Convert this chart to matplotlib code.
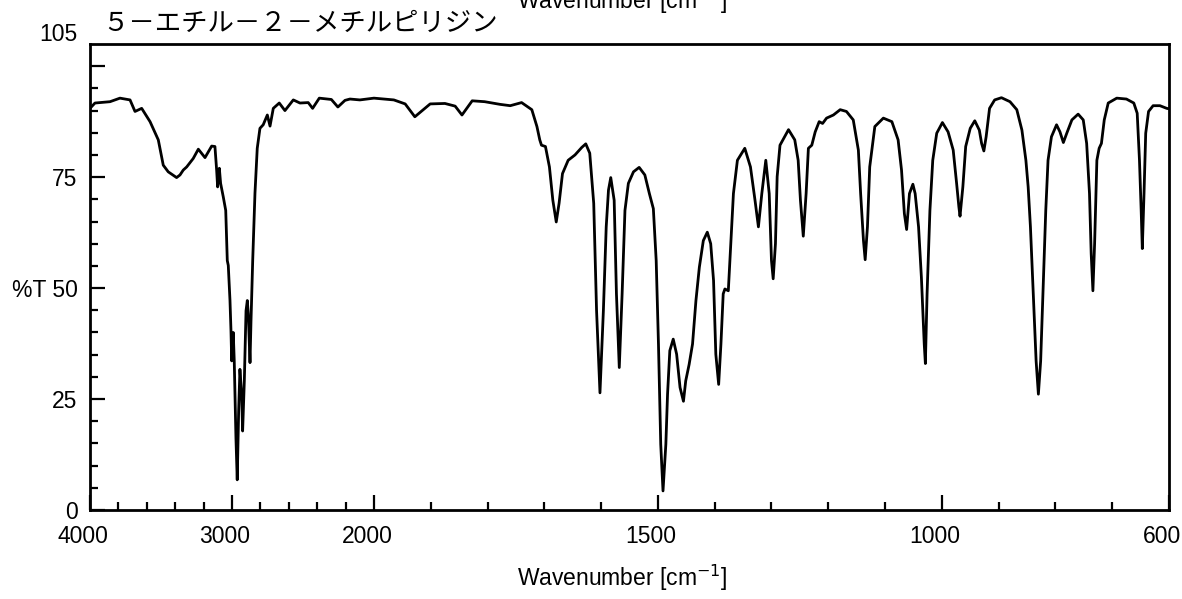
import numpy as np
import matplotlib.pyplot as plt
from matplotlib.transforms import ScaledTranslation

# IR spectrum (wavenumber in cm-1, %T)
wavenumber = [4000, 3965, 3859, 3789, 3718, 3683, 3636, 3577, 3519, 3484,
              3449, 3390, 3366, 3343, 3319, 3273, 3237, 3190, 3143, 3120,
              3108, 3101, 3089, 3080, 3061, 3044, 3033, 3026, 3014, 3007,
              3002, 2991, 2984, 2972, 2963, 2953, 2944, 2932, 2925, 2913,
              2901, 2892, 2885, 2873, 2866, 2854, 2838, 2822, 2803, 2780,
              2751, 2732, 2709, 2667, 2627, 2568, 2521, 2463, 2432, 2385,
              2300, 2254, 2204, 2169, 2099, 2000, 1965, 1945, 1928, 1912,
              1901, 1875, 1857, 1845, 1827, 1805, 1778, 1760, 1740, 1722,
              1713, 1708, 1705, 1698, 1691, 1685, 1679, 1674, 1668, 1658,
              1646, 1634, 1627, 1620, 1613, 1608, 1602, 1596, 1591, 1587,
              1583, 1577, 1573, 1568, 1563, 1558, 1552, 1543, 1533, 1523,
              1515, 1508, 1503, 1499, 1495, 1491, 1486, 1483, 1479, 1473,
              1467, 1461, 1455, 1451, 1445, 1439, 1433, 1427, 1420, 1413,
              1407, 1402, 1398, 1393, 1389, 1385, 1382, 1376, 1372, 1367,
              1360, 1347, 1337, 1329, 1323, 1317, 1310, 1304, 1300, 1297,
              1293, 1290, 1285, 1270, 1259, 1253, 1249, 1244, 1239, 1235,
              1229, 1223, 1216, 1210, 1203, 1191, 1179, 1168, 1156, 1147,
              1143, 1138, 1135, 1131, 1127, 1118, 1103, 1088, 1077, 1071,
              1066, 1062, 1057, 1051, 1047, 1041, 1036, 1031, 1029, 1026,
              1021, 1016, 1009, 999, 989, 980, 974, 970, 968, 963,
              958, 950, 942, 934, 930, 926, 922, 916, 907, 895,
              880, 868, 859, 852, 848, 844, 839, 834, 830, 826,
              821, 817, 813, 807, 798, 792, 786, 780, 771, 760,
              751, 745, 740, 737, 734, 731, 727, 723, 719, 714,
              707, 692, 675, 662, 656, 652, 649, 647, 644, 641,
              636, 628, 616, 604, 600]
transmittance = [90.5, 91.7, 92.0, 92.8, 92.4, 89.8, 90.5, 87.5, 83.4, 77.7,
                 76.2, 74.9, 75.5, 76.6, 77.3, 79.2, 81.3, 79.4, 82.0, 81.9,
                 76.6, 72.8, 77.0, 73.6, 70.5, 67.5, 56.2, 55.1, 47.2, 40.4,
                 33.6, 40.0, 33.6, 16.2, 6.8, 22.3, 31.7, 26.1, 17.8, 29.1,
                 44.9, 47.2, 44.2, 33.2, 42.6, 56.2, 71.4, 81.5, 86.0, 86.8,
                 89.0, 86.5, 90.5, 91.7, 90.0, 92.4, 91.7, 91.8, 90.5, 92.8,
                 92.5, 90.8, 92.3, 92.6, 92.4, 92.8, 92.4, 91.5, 88.6, 90.3,
                 91.5, 91.6, 91.0, 89.0, 92.2, 92.0, 91.4, 91.1, 91.8, 90.2,
                 86.4, 83.4, 82.2, 81.9, 77.3, 69.8, 64.9, 69.1, 75.8, 78.8,
                 80.0, 81.7, 82.5, 80.4, 69.1, 44.9, 26.4, 44.9, 63.8, 72.1,
                 74.9, 69.8, 48.7, 32.1, 48.7, 67.5, 73.6, 76.2, 77.2, 75.5,
                 71.3, 67.9, 56.2, 37.4, 14.8, 4.3, 14.8, 26.1, 35.9, 38.5,
                 35.1, 27.6, 24.5, 29.1, 32.8, 37.4, 47.2, 54.7, 60.7, 62.6,
                 60.0, 51.7, 35.1, 28.3, 37.4, 48.7, 49.8, 49.4, 59.2, 71.3,
                 78.8, 81.5, 77.3, 69.8, 63.8, 71.3, 78.8, 71.3, 56.2, 52.1,
                 60.0, 75.1, 82.2, 85.7, 83.4, 78.8, 69.8, 61.7, 71.3, 81.5,
                 82.2, 85.2, 87.5, 87.1, 88.3, 89.0, 90.2, 89.8, 87.9, 81.1,
                 71.3, 60.7, 56.4, 63.8, 77.3, 86.4, 88.3, 87.5, 83.4, 76.6,
                 66.8, 63.2, 71.3, 73.4, 71.3, 63.8, 52.4, 37.4, 33.0, 48.7,
                 67.5, 78.8, 84.9, 87.3, 85.2, 81.1, 73.6, 68.3, 66.2, 72.8,
                 81.9, 86.0, 87.7, 85.6, 82.6, 80.9, 84.1, 90.5, 92.4, 92.9,
                 92.0, 90.2, 85.6, 78.8, 72.8, 63.8, 48.7, 33.6, 26.1, 33.6,
                 52.4, 67.5, 78.8, 84.1, 86.8, 85.2, 82.8, 84.9, 87.9, 89.2,
                 87.9, 82.6, 71.3, 57.7, 49.4, 60.0, 78.8, 81.5, 82.6, 87.9,
                 91.7, 92.8, 92.6, 91.7, 89.4, 78.8, 67.5, 58.9, 71.3, 84.9,
                 89.8, 91.1, 91.1, 90.5, 90.4]

major_ticks = [4000, 3000, 2000, 1500, 1000, 600]
minor_ticks = [3800, 3600, 3400, 3200, 2800, 2600, 2400, 2200,
               1900, 1800, 1700, 1600, 1400, 1300, 1200, 1100, 900, 800, 700]
y_ticks = [0, 25, 50, 75, 100]
y_labels = ['0', '25', '%T 50', '75', '']
title = '５－エチル－２－メチルピリジン'


# 4000-2000 is drawn at a quarter of the scale used below 2000
def fwd(w):
    w = np.asarray(w, dtype=float)
    return np.where(w > 2000, 2000 + (w - 2000) / 4.0, w)


def inv(u):
    u = np.asarray(u, dtype=float)
    return np.where(u > 2000, 2000 + (u - 2000) * 4.0, u)


plt.rcParams['font.family'] = ['Liberation Sans', 'DejaVu Sans']

fig = plt.figure(figsize=(11.82, 5.99), dpi=100)
ax = fig.add_axes([90 / 1182, 89 / 599, 1079 / 1182, 466 / 599])

ax.plot(wavenumber, transmittance, color='black', lw=2.0)

ax.set_xscale('function', functions=(fwd, inv))
ax.set_xlim(4000, 600)
ax.set_ylim(0, 105)

ax.set_xticks(major_ticks)
ax.set_xticklabels([str(t) for t in major_ticks])
ax.set_xticks(minor_ticks, minor=True)
ax.set_yticks(y_ticks)
ax.set_yticklabels(y_labels)
ax.set_yticks(np.arange(5, 105, 5), minor=True)

ax.tick_params(which='both', direction='in', width=1.6, labelsize=16.5)
ax.tick_params(which='major', length=10.5)
ax.tick_params(which='minor', length=6)
ax.tick_params(axis='x', pad=11)
ax.tick_params(axis='y', pad=9)
for s in ax.spines.values():
    s.set_linewidth(2)

# tick labels in the reference sit a little left of their ticks
shift = ScaledTranslation(-7 / 100, 0, fig.dpi_scale_trans)
for lab in ax.get_xticklabels():
    lab.set_transform(lab.get_transform() + shift)

ax.annotate('105', xy=(0, 105), xycoords=('axes fraction', 'data'),
            xytext=(-9, 7), textcoords='offset points',
            ha='right', va='center', fontsize=16.5)

fig.text(622 / 1182, 1 - 578 / 599, 'Wavenumber [cm$^{-1}$]',
         ha='center', va='center', fontsize=16.5)
fig.text(622 / 1182, 1 - 1 / 599, 'Wavenumber [cm$^{-1}$]',
         ha='center', va='center', fontsize=16.5)
fig.text(102 / 1182, 1 - 23 / 599, title, ha='left', va='center',
         fontsize=19, family=['Noto Sans CJK JP', 'DejaVu Sans'])

fig.savefig('out.png', dpi=100)
